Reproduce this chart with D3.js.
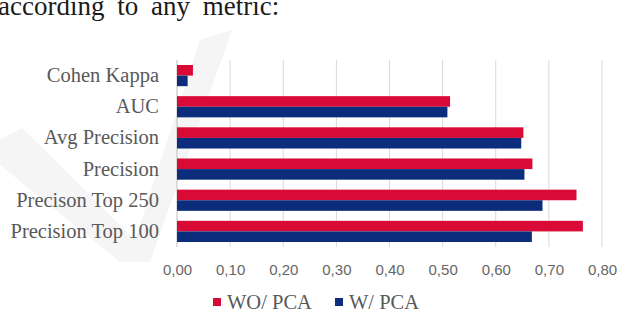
<!DOCTYPE html>
<html><head><meta charset="utf-8">
<script src="https://cdn.jsdelivr.net/npm/d3@7"></script>
<style>html,body{margin:0;padding:0;background:#fff;overflow:hidden}</style>
</head><body>
<svg id="chart" width="617" height="315"></svg>
<script>
const categories = ["Cohen Kappa","AUC","Avg Precision","Precision","Precison Top 250","Precision Top 100"];
const seriesNames = ["WO/ PCA","W/ PCA"];
const woPCA = [0.03, 0.514, 0.652, 0.669, 0.752, 0.764];
const wPCA  = [0.02, 0.509, 0.648, 0.654, 0.688, 0.668];
const xTicks = [0,0.1,0.2,0.3,0.4,0.5,0.6,0.7,0.8];
const colors = ["#d90a35","#0b2d7c"];

const svg = d3.select("#chart");

// faint watermark shape
svg.append("path")
  .attr("d","M0,140 L22,128 L135,240 L200,40 L232,30 L150,262 L120,262 L0,165 Z")
  .attr("fill","#f5f5f5");

// top text (line of the surrounding paper)
svg.append("text").attr("x",-2).attr("y",15)
  .attr("font-family","Liberation Serif, Times New Roman, serif")
  .attr("font-size",27).attr("fill","#1a1a1a").attr("word-spacing",6)
  .text("according to any metric:");

const x = d3.scaleLinear().domain([0,0.8]).range([177,602]);
const y = d3.scaleBand().domain(categories).range([60,247]).paddingInner(0.32).paddingOuter(0.16);
const ys = d3.scaleBand().domain(seriesNames).range([0,y.bandwidth()]);

// gridlines
svg.append("g").selectAll("line").data(xTicks).join("line")
  .attr("x1",d=>x(d)).attr("x2",d=>x(d)).attr("y1",60).attr("y2",247)
  .attr("stroke",d=>d===0?"#bfbfbf":"#d9d9d9").attr("stroke-width",1);

const data = categories.map((c,i)=>({c, vals:[woPCA[i], wPCA[i]]}));
const g = svg.append("g");
data.forEach(d=>{
  seriesNames.forEach((s,j)=>{
    g.append("rect")
      .attr("x",x(0)).attr("y",y(d.c)+ys(s))
      .attr("width",x(d.vals[j])-x(0)).attr("height",ys.bandwidth())
      .attr("fill",colors[j]);
  });
});

// y labels
const yAxis = d3.axisLeft(y).tickSize(0).tickPadding(0);
const ya = svg.append("g").attr("transform","translate(159,0)").call(yAxis);
ya.select(".domain").remove();
ya.selectAll("text").attr("font-family","Liberation Serif, Times New Roman, serif")
  .attr("font-size",20.5).attr("fill","#595959");

// x tick labels
const xAxis = d3.axisBottom(x).tickValues(xTicks).tickSize(0).tickPadding(0)
  .tickFormat(d=>d3.format(".2f")(d).replace(".",","));
const xa = svg.append("g").attr("transform","translate(0,264)").call(xAxis);
xa.select(".domain").remove();
xa.selectAll("text").attr("font-family","Liberation Sans, Arial, sans-serif")
  .attr("font-size",15).attr("fill","#666");

// legend
const leg = svg.append("g");
const legX = [213, 335];
seriesNames.forEach((s,j)=>{
  leg.append("rect").attr("x",legX[j]).attr("y",298).attr("width",8).attr("height",8).attr("fill",colors[j]);
  leg.append("text").attr("x",legX[j]+14).attr("y",309)
    .attr("font-family","Liberation Serif, Times New Roman, serif")
    .attr("font-size",20.5).attr("fill","#595959").text(s);
});
</script>
</body></html>
